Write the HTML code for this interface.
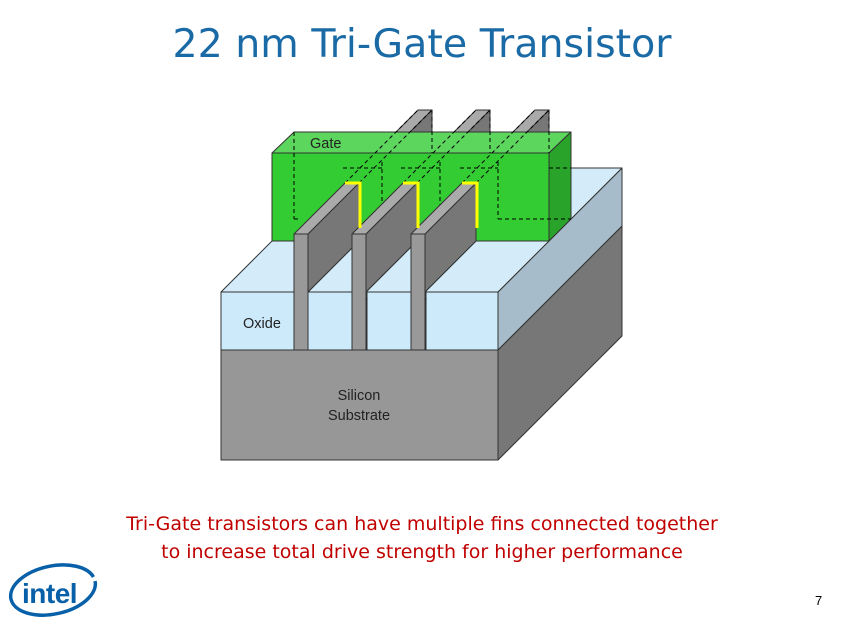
<!DOCTYPE html>
<html><head><meta charset="utf-8"><style>
body{margin:0;width:844px;height:622px;background:#fff;overflow:hidden;font-family:"Liberation Sans",sans-serif;position:relative}
.t{position:absolute;left:0;width:844px;text-align:center}
</style></head><body>
<div class="t" style="top:21px;font-size:39.5px;color:#1a6aa6;font-family:'DejaVu Sans',sans-serif">22 nm Tri-Gate Transistor</div>
<div class="t" style="top:510px;font-size:19px;color:#c00000;line-height:28px;font-family:'DejaVu Sans',sans-serif">Tri-Gate transistors can have multiple fins connected together<br>to increase total drive strength for higher performance</div>
<div style="position:absolute;left:815px;top:593px;font-size:13px">7</div>
<svg width="844" height="622" style="position:absolute;left:0;top:0" xmlns="http://www.w3.org/2000/svg">
<g stroke="#333" stroke-width="1" stroke-linejoin="round">
<polygon points="221,350 498,350 498,460 221,460" fill="#979797"/>
<polygon points="498,350 622,226 622,336 498,460" fill="#777"/>
<polygon points="498,292 622,168 622,226 498,350" fill="#a7bccb"/>
<polygon points="221,292 345,168 622,168 498,292" fill="#d4ecfa"/>
<polygon points="221,292 294,292 294,350 221,350" fill="#cdeafb"/>
<polygon points="308,292 352,292 352,350 308,350" fill="#cdeafb"/>
<polygon points="367,292 411,292 411,350 367,350" fill="#cdeafb"/>
<polygon points="426,292 498,292 498,350 426,350" fill="#cdeafb"/>
<g id="fin">
<polygon points="308,234 432,110 432,168 308,292" fill="#777"/>
<polygon points="294,234 308,234 432,110 418,110" fill="#aaa"/>
</g>
<use href="#fin" x="58"/><use href="#fin" x="117"/>
<polygon points="272,153 294,132 571,132 549,153" fill="#5cd65c" stroke="#333"/>
<polygon points="549,153 571,132 571,219 549,241" fill="#29a329"/>
<polygon points="272,153 549,153 549,241 272,241" fill="#33cc33"/>
</g>
<g stroke="#000" stroke-width="1" stroke-dasharray="4,3" fill="none">
<line x1="294" y1="132" x2="294" y2="219"/>
<line x1="294" y1="219" x2="300" y2="219"/>
<line x1="359" y1="183" x2="432" y2="110"/>
<line x1="345" y1="183" x2="418" y2="110"/>
<line x1="417" y1="183" x2="490" y2="110"/>
<line x1="403" y1="183" x2="476" y2="110"/>
<line x1="476" y1="183" x2="549" y2="110"/>
<line x1="462" y1="183" x2="535" y2="110"/>
<line x1="343" y1="168" x2="382" y2="168"/>
<line x1="382" y1="162" x2="382" y2="206"/>
<line x1="401" y1="168" x2="440" y2="168"/>
<line x1="440" y1="162" x2="440" y2="206"/>
<line x1="460" y1="168" x2="498" y2="168"/>
<line x1="498" y1="162" x2="498" y2="219"/>
<line x1="498" y1="219" x2="571" y2="219"/>
<line x1="549" y1="168" x2="571" y2="168"/>
<line x1="432" y1="110" x2="432" y2="153"/>
<line x1="490" y1="110" x2="490" y2="153"/>
<line x1="549" y1="110" x2="549" y2="153"/>
<line x1="294" y1="299" x2="308" y2="299"/>
<line x1="352" y1="299" x2="367" y2="299"/>
<line x1="411" y1="299" x2="426" y2="299"/>
</g>
<g stroke="#333" stroke-width="1" stroke-linejoin="round">
<g id="ff">
<polygon points="308,234 359,183 359,241 308,292" fill="#777"/>
<polygon points="294,234 308,234 359,183 345,183" fill="#aaa"/>
<polygon points="294,234 308,234 308,350 294,350" fill="#999"/>
</g>
<use href="#ff" x="58"/><use href="#ff" x="117"/>
</g>
<g stroke="#ffff00" stroke-width="3" fill="none">
<polyline points="345,183 360,183 360,228"/>
<polyline points="403,183 418,183 418,228"/>
<polyline points="462,183 477,183 477,228"/>
</g>
<text x="310" y="148" font-family="Liberation Sans" font-size="14.5" fill="#222">Gate</text>
<text x="243" y="328" font-family="Liberation Sans" font-size="14.5" fill="#222">Oxide</text>
<text x="359" y="400" font-family="Liberation Sans" font-size="14.5" fill="#222" text-anchor="middle">Silicon</text>
<text x="359" y="420" font-family="Liberation Sans" font-size="14.5" fill="#222" text-anchor="middle">Substrate</text>
<ellipse cx="53" cy="590" rx="43" ry="24" fill="none" stroke="#0860a8" stroke-width="3.5" transform="rotate(-12 53 590)" stroke-dasharray="210,20"/>
<text x="22" y="603" font-family="Liberation Sans" font-size="28" font-weight="bold" fill="#0860a8" letter-spacing="-0.5">intel</text>
</svg>
</body></html>
